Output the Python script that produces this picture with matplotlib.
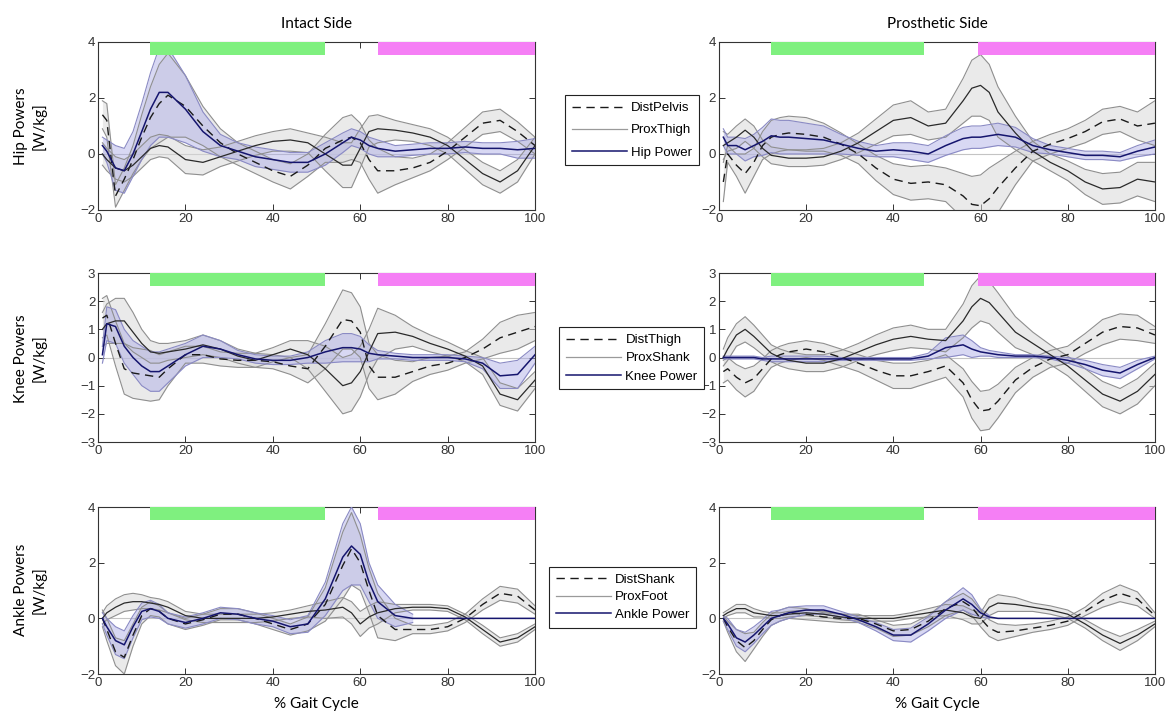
import numpy as np
import matplotlib.pyplot as plt
from matplotlib.lines import Line2D

nan = np.nan

# % gait cycle sample points
gait = [1, 2, 4, 6, 8, 10, 12, 14, 16, 20, 24, 28, 32, 36, 40, 44, 48, 52, 56, 58, 60,
        62, 64, 68, 72, 76, 80, 84, 88, 92, 96, 100]

# ---- hip, intact side ----
hip_int_dist = [1.4, 1.2, -1.5, -0.9, -0.2, 0.6, 1.3, 1.8, 2.1, 1.7, 1.0, 0.4, 0.0, -0.3, -0.6, -0.8,
                -0.4, 0.2, 0.5, 0.6, 0.4, -0.2, -0.6, -0.6, -0.5, -0.3, 0.1, 0.6, 1.1, 1.2, 0.8, 0.3]
hip_int_dist_sd = [0.5, 0.6, 0.4, 0.4, 0.5, 0.8, 1.1, 1.4, 1.5, 1.1, 0.7, 0.5, 0.4, 0.4, 0.4, 0.45,
                   0.4, 0.5, 0.8, 0.8, 0.7, 0.7, 0.8, 0.5, 0.35, 0.3, 0.3, 0.35, 0.4, 0.4, 0.35, 0.3]
hip_int_prox = [0.0, -0.2, -0.5, -0.6, -0.4, -0.1, 0.2, 0.3, 0.25, -0.2, -0.3, -0.1, 0.1, 0.3, 0.45, 0.5,
                0.4, 0.0, -0.4, -0.4, 0.2, 0.8, 0.9, 0.85, 0.75, 0.6, 0.3, -0.2, -0.7, -1.0, -0.6, 0.3]
hip_int_prox_sd = [0.4, 0.4, 0.4, 0.4, 0.4, 0.4, 0.4, 0.4, 0.4, 0.5, 0.45, 0.35, 0.35, 0.35, 0.35, 0.4,
                   0.35, 0.6, 0.8, 0.8, 0.7, 0.55, 0.5, 0.35, 0.3, 0.3, 0.3, 0.35, 0.4, 0.4, 0.4, 0.3]
hip_int_pow = [0.3, 0.1, -0.5, -0.6, 0.0, 0.8, 1.6, 2.2, 2.2, 1.6, 0.8, 0.3, 0.1, -0.1, -0.2, -0.3,
               -0.3, 0.0, 0.4, 0.6, 0.5, 0.3, 0.2, 0.1, 0.15, 0.2, 0.2, 0.25, 0.2, 0.2, 0.15, 0.2]
hip_int_pow_sd = [0.3, 0.4, 0.8, 0.8, 0.8, 1.0, 1.3, 1.6, 1.6, 1.2, 0.7, 0.4, 0.3, 0.35, 0.35, 0.35,
                  0.35, 0.4, 0.35, 0.3, 0.3, 0.3, 0.3, 0.2, 0.2, 0.2, 0.2, 0.2, 0.2, 0.2, 0.3, 0.35]

# ---- hip, prosthetic side ----
hip_pro_dist = [-1.0, 0.0, -0.4, -0.7, -0.3, 0.3, 0.6, 0.7, 0.75, 0.7, 0.6, 0.35, 0.0, -0.5, -0.9, -1.05,
                -1.0, -1.1, -1.5, -1.8, -1.85, -1.6, -1.2, -0.5, 0.1, 0.35, 0.55, 0.8, 1.15, 1.25, 1.0, 1.1]
hip_pro_dist_sd = [0.7, 0.3, 0.4, 0.7, 0.5, 0.5, 0.6, 0.6, 0.6, 0.6, 0.5, 0.4, 0.35, 0.45, 0.55, 0.6,
                   0.6, 0.6, 0.8, 1.0, 1.1, 1.1, 0.9, 0.6, 0.35, 0.35, 0.35, 0.4, 0.45, 0.45, 0.5, 0.8]
hip_pro_prox = [0.3, 0.4, 0.6, 0.85, 0.6, 0.2, -0.05, -0.1, -0.15, -0.15, -0.1, 0.1, 0.4, 0.8, 1.2, 1.3,
                1.0, 1.1, 1.9, 2.35, 2.45, 2.2, 1.5, 0.75, 0.1, -0.3, -0.6, -1.0, -1.25, -1.2, -0.9, -1.0]
hip_pro_prox_sd = [0.5, 0.3, 0.4, 0.4, 0.4, 0.3, 0.3, 0.3, 0.3, 0.3, 0.3, 0.3, 0.35, 0.45, 0.55, 0.6,
                   0.5, 0.5, 0.8, 1.0, 1.1, 1.0, 0.9, 0.6, 0.35, 0.3, 0.35, 0.45, 0.55, 0.55, 0.6, 0.7]
hip_pro_pow = [0.6, 0.3, 0.3, 0.15, 0.3, 0.45, 0.65, 0.6, 0.6, 0.55, 0.5, 0.35, 0.2, 0.1, 0.15, 0.1,
               0.0, 0.3, 0.55, 0.6, 0.6, 0.65, 0.7, 0.6, 0.3, 0.15, 0.05, -0.05, -0.05, -0.1, 0.1, 0.25]
hip_pro_pow_sd = [0.3, 0.3, 0.3, 0.4, 0.4, 0.5, 0.6, 0.6, 0.6, 0.55, 0.5, 0.35, 0.25, 0.2, 0.25, 0.3,
                  0.3, 0.35, 0.4, 0.4, 0.4, 0.4, 0.4, 0.35, 0.25, 0.15, 0.15, 0.15, 0.15, 0.15, 0.2, 0.25]

# ---- knee, intact side ----
knee_int_dist = [1.4, 1.5, 0.5, -0.4, -0.55, -0.6, -0.65, -0.7, -0.4, 0.1, 0.1, -0.05, -0.1, -0.1, -0.15, -0.3,
                 -0.4, 0.4, 1.35, 1.3, 0.9, -0.3, -0.7, -0.7, -0.5, -0.3, -0.2, 0.0, 0.3, 0.7, 0.9, 1.1]
knee_int_dist_sd = [0.7, 0.7, 0.8, 0.9, 0.9, 0.9, 0.9, 0.8, 0.6, 0.3, 0.3, 0.25, 0.25, 0.25, 0.25, 0.3,
                    0.5, 0.8, 1.05, 1.0, 0.9, 0.8, 0.8, 0.6, 0.35, 0.3, 0.25, 0.2, 0.35, 0.55, 0.6, 0.5]
knee_int_prox = [1.0, 1.2, 1.3, 1.3, 0.9, 0.5, 0.2, 0.15, 0.2, 0.3, 0.45, 0.3, 0.05, -0.1, 0.1, 0.3,
                 0.1, -0.4, -1.0, -0.9, -0.5, 0.2, 0.85, 0.9, 0.75, 0.5, 0.3, 0.05, -0.3, -1.3, -1.5, -0.8]
knee_int_prox_sd = [0.6, 0.7, 0.8, 0.8, 0.7, 0.5, 0.4, 0.35, 0.3, 0.3, 0.35, 0.3, 0.25, 0.25, 0.25, 0.3,
                    0.5, 0.8, 1.0, 1.0, 0.9, 0.8, 0.9, 0.6, 0.35, 0.3, 0.25, 0.2, 0.3, 0.4, 0.4, 0.3]
knee_int_pow = [0.1, 1.2, 1.1, 0.4, 0.0, -0.3, -0.5, -0.5, -0.3, 0.1, 0.4, 0.3, 0.1, -0.05, -0.1, -0.1,
                0.0, 0.2, 0.35, 0.35, 0.3, 0.15, 0.1, 0.05, 0.0, 0.0, 0.0, -0.05, -0.2, -0.65, -0.6, 0.1]
knee_int_pow_sd = [0.3, 0.6, 0.6, 0.6, 0.6, 0.7, 0.7, 0.7, 0.6, 0.4, 0.4, 0.3, 0.15, 0.15, 0.15, 0.15,
                   0.2, 0.4, 0.5, 0.5, 0.45, 0.3, 0.15, 0.1, 0.1, 0.1, 0.1, 0.1, 0.2, 0.45, 0.5, 0.3]

# ---- knee, prosthetic side ----
knee_pro_dist = [-0.5, -0.4, -0.7, -0.9, -0.75, -0.4, -0.05, 0.1, 0.2, 0.3, 0.2, 0.0, -0.2, -0.45, -0.65, -0.65,
                 -0.5, -0.3, -0.9, -1.5, -1.9, -1.85, -1.55, -0.8, -0.35, -0.05, 0.1, 0.5, 0.9, 1.1, 1.05, 0.8]
knee_pro_dist_sd = [0.4, 0.4, 0.45, 0.5, 0.45, 0.35, 0.3, 0.3, 0.3, 0.3, 0.3, 0.3, 0.3, 0.35, 0.45, 0.45,
                    0.4, 0.4, 0.5, 0.65, 0.7, 0.7, 0.6, 0.45, 0.35, 0.3, 0.3, 0.35, 0.45, 0.45, 0.45, 0.3]
knee_pro_prox = [0.0, 0.3, 0.8, 1.0, 0.75, 0.45, 0.15, 0.0, -0.1, -0.2, -0.2, -0.05, 0.2, 0.45, 0.65, 0.75,
                 0.65, 0.6, 1.3, 1.8, 2.1, 1.95, 1.6, 0.9, 0.5, 0.1, -0.3, -0.8, -1.3, -1.55, -1.2, -0.6]
knee_pro_prox_sd = [0.3, 0.4, 0.4, 0.45, 0.4, 0.35, 0.3, 0.3, 0.3, 0.3, 0.3, 0.3, 0.3, 0.35, 0.4, 0.4,
                    0.35, 0.4, 0.6, 0.75, 0.8, 0.75, 0.7, 0.55, 0.4, 0.35, 0.35, 0.4, 0.45, 0.45, 0.45, 0.4]
knee_pro_pow = [0.0, 0.0, 0.0, 0.0, 0.0, -0.05, -0.05, -0.05, -0.05, -0.05, -0.05, -0.05, -0.05, -0.05, -0.05, -0.05,
                0.05, 0.35, 0.45, 0.3, 0.2, 0.15, 0.1, 0.05, 0.05, 0.0, -0.1, -0.25, -0.45, -0.55, -0.25, 0.0]
knee_pro_pow_sd = [0.05, 0.05, 0.05, 0.05, 0.05, 0.05, 0.1, 0.1, 0.1, 0.1, 0.1, 0.05, 0.05, 0.05, 0.05, 0.05,
                   0.1, 0.35, 0.35, 0.3, 0.15, 0.1, 0.1, 0.05, 0.05, 0.05, 0.1, 0.15, 0.2, 0.2, 0.15, 0.05]

# ---- ankle, intact side ----
ank_int_dist = [0.0, -0.4, -1.2, -1.4, -0.6, 0.1, 0.35, 0.25, 0.0, -0.2, -0.05, 0.15, 0.15, 0.0, -0.2, -0.4,
                -0.2, 0.5, 1.9, 2.5, 2.0, 1.0, 0.1, -0.4, -0.4, -0.4, -0.3, 0.0, 0.5, 0.9, 0.8, 0.3]
ank_int_dist_sd = [0.3, 0.4, 0.5, 0.6, 0.4, 0.3, 0.25, 0.2, 0.2, 0.2, 0.2, 0.2, 0.2, 0.2, 0.2, 0.2,
                   0.25, 0.6, 1.2, 1.3, 1.0, 0.8, 0.8, 0.4, 0.15, 0.15, 0.15, 0.15, 0.2, 0.25, 0.25, 0.15]
ank_int_prox = [0.0, 0.2, 0.4, 0.55, 0.6, 0.6, 0.55, 0.5, 0.4, 0.1, 0.0, 0.0, 0.0, 0.0, 0.05, 0.15,
                0.25, 0.3, 0.4, 0.2, -0.2, 0.05, 0.2, 0.35, 0.4, 0.4, 0.35, 0.05, -0.4, -0.85, -0.7, -0.3]
ank_int_prox_sd = [0.2, 0.25, 0.3, 0.3, 0.3, 0.25, 0.2, 0.2, 0.2, 0.15, 0.15, 0.15, 0.15, 0.15, 0.15, 0.15,
                   0.2, 0.3, 0.35, 0.4, 0.45, 0.4, 0.4, 0.15, 0.1, 0.1, 0.1, 0.1, 0.15, 0.15, 0.15, 0.1]
ank_int_pow = [0.0, -0.3, -0.8, -0.95, -0.3, 0.25, 0.35, 0.25, 0.0, -0.15, 0.0, 0.2, 0.15, 0.0, -0.1, -0.3,
               -0.2, 0.7, 2.2, 2.6, 2.3, 1.3, 0.6, 0.1, 0.0, 0.0, 0.0, 0.0, 0.0, 0.0, 0.0, 0.0]
ank_int_pow_sd = [0.2, 0.3, 0.5, 0.5, 0.4, 0.3, 0.3, 0.25, 0.2, 0.2, 0.2, 0.2, 0.2, 0.2, 0.2, 0.25,
                  0.3, 0.6, 1.2, 1.4, 1.1, 0.7, 0.6, 0.4, 0.15, nan, nan, nan, nan, nan, nan, nan]

# ---- ankle, prosthetic side ----
ank_pro_dist = [0.0, -0.3, -0.8, -1.05, -0.8, -0.4, -0.05, 0.1, 0.2, 0.15, 0.05, 0.0, 0.0, -0.2, -0.45, -0.4,
                -0.1, 0.35, 0.6, 0.4, 0.0, -0.35, -0.5, -0.45, -0.35, -0.25, -0.1, 0.25, 0.65, 0.9, 0.7, 0.1]
ank_pro_dist_sd = [0.1, 0.2, 0.4, 0.5, 0.3, 0.25, 0.2, 0.2, 0.2, 0.2, 0.15, 0.15, 0.15, 0.15, 0.2, 0.2,
                   0.2, 0.25, 0.3, 0.3, 0.3, 0.3, 0.3, 0.2, 0.15, 0.15, 0.15, 0.15, 0.25, 0.3, 0.25, 0.1]
ank_pro_prox = [0.1, 0.2, 0.35, 0.35, 0.2, 0.15, 0.1, 0.1, 0.15, 0.2, 0.15, 0.05, 0.0, 0.0, 0.0, 0.1,
                0.2, 0.3, 0.2, 0.05, 0.0, 0.4, 0.55, 0.5, 0.4, 0.3, 0.15, -0.2, -0.6, -0.9, -0.6, -0.2]
ank_pro_prox_sd = [0.1, 0.1, 0.15, 0.15, 0.15, 0.1, 0.1, 0.1, 0.1, 0.1, 0.1, 0.1, 0.1, 0.1, 0.1, 0.1,
                   0.15, 0.2, 0.25, 0.25, 0.2, 0.3, 0.3, 0.25, 0.15, 0.15, 0.15, 0.15, 0.2, 0.25, 0.2, 0.1]
ank_pro_pow = [0.0, -0.2, -0.7, -0.85, -0.6, -0.3, 0.0, 0.1, 0.2, 0.3, 0.3, 0.15, -0.05, -0.3, -0.6, -0.6,
               -0.2, 0.3, 0.7, 0.5, 0.2, 0.05, 0.0, 0.0, 0.0, 0.0, 0.0, 0.0, 0.0, 0.0, 0.0, 0.0]
ank_pro_pow_sd = [0.1, 0.2, 0.3, 0.35, 0.3, 0.25, 0.25, 0.2, 0.2, 0.15, 0.15, 0.1, 0.1, 0.15, 0.2, 0.25,
                  0.25, 0.3, 0.4, 0.35, 0.15, 0.05, nan, nan, nan, nan, nan, nan, nan, nan, nan, nan]

# stance phase bars (% gait cycle)
intact_green = (12, 52)
intact_magenta = (64, 100)
prosthetic_green = (12, 47)
prosthetic_magenta = (59.5, 100)

row_names = ["Hip Powers\n[W/kg]", "Knee Powers\n[W/kg]", "Ankle Powers\n[W/kg]"]
col_names = ["Intact Side", "Prosthetic Side"]
legend_names = [["DistPelvis", "ProxThigh", "Hip Power"],
                ["DistThigh", "ProxShank", "Knee Power"],
                ["DistShank", "ProxFoot", "Ankle Power"]]
ylims = [(-2, 4), (-3, 3), (-2, 4)]
yticks = [[-2, 0, 2, 4], [-3, -2, -1, 0, 1, 2, 3], [-2, 0, 2, 4]]

panels = [
    [(hip_int_dist, hip_int_dist_sd, hip_int_prox, hip_int_prox_sd, hip_int_pow, hip_int_pow_sd),
     (hip_pro_dist, hip_pro_dist_sd, hip_pro_prox, hip_pro_prox_sd, hip_pro_pow, hip_pro_pow_sd)],
    [(knee_int_dist, knee_int_dist_sd, knee_int_prox, knee_int_prox_sd, knee_int_pow, knee_int_pow_sd),
     (knee_pro_dist, knee_pro_dist_sd, knee_pro_prox, knee_pro_prox_sd, knee_pro_pow, knee_pro_pow_sd)],
    [(ank_int_dist, ank_int_dist_sd, ank_int_prox, ank_int_prox_sd, ank_int_pow, ank_int_pow_sd),
     (ank_pro_dist, ank_pro_dist_sd, ank_pro_prox, ank_pro_prox_sd, ank_pro_pow, ank_pro_pow_sd)],
]

GRAY_FILL = "#d9d9d9"
GRAY_EDGE = "#8f8f8f"
BLUE_FILL = "#a9a9e6"
BLUE_EDGE = "#8a8ac4"
NAVY = "#15156e"
TICK_FONT = "Liberation Sans"
LABEL_FONT = "Lato"

fig = plt.figure(figsize=(11.7, 7.24), dpi=100)

lefts = [0.0838, 0.6145]
widths = [0.3735, 0.3726]
bottoms = [0.710, 0.3895, 0.069]
heights = [0.232, 0.2334, 0.2307]
legend_pos = [(0.540, 0.820), (0.540, 0.505), (0.532, 0.175)]
legend_spacing = [0.75, 0.45, 0.4]
row_label_y = [0.826, 0.505, 0.185]

x = np.array(gait, dtype=float)


def band(ax, mean, sd, fill, edge, alpha):
    m = np.array(mean, dtype=float)
    s = np.array(sd, dtype=float)
    ok = ~np.isnan(s)
    ax.fill_between(x[ok], (m - s)[ok], (m + s)[ok], color=fill, alpha=alpha, lw=0, zorder=2)
    ax.plot(x[ok], (m - s)[ok], color=edge, lw=0.8, zorder=3)
    ax.plot(x[ok], (m + s)[ok], color=edge, lw=0.8, zorder=3)


for r in range(3):
    for c in range(2):
        ax = fig.add_axes([lefts[c], bottoms[r], widths[c], heights[r]])
        dist, dist_sd, prox, prox_sd, pw, pw_sd = panels[r][c]

        ax.axhline(0, color="#c4c4c4", lw=0.8, zorder=1)
        band(ax, dist, dist_sd, GRAY_FILL, GRAY_EDGE, 0.55)
        band(ax, prox, prox_sd, GRAY_FILL, GRAY_EDGE, 0.55)
        band(ax, pw, pw_sd, BLUE_FILL, BLUE_EDGE, 0.45)

        ax.plot(x, dist, color="#1a1a1a", lw=1.0, ls=(0, (6, 4)), zorder=4)
        ax.plot(x, prox, color="#2a2a2a", lw=0.9, zorder=4)
        ax.plot(x, pw, color=NAVY, lw=1.1, zorder=5)

        green = intact_green if c == 0 else prosthetic_green
        magenta = intact_magenta if c == 0 else prosthetic_magenta
        ax.axvspan(green[0], green[1], ymin=0.923, ymax=1.0, color="#7ff07f", lw=0, zorder=6)
        ax.axvspan(magenta[0], magenta[1], ymin=0.923, ymax=1.0, color="#f57ff5", lw=0, zorder=6)

        ax.set_xlim(0, 100)
        ax.set_ylim(*ylims[r])
        ax.set_xticks([0, 20, 40, 60, 80, 100])
        ax.set_yticks(yticks[r])
        ax.tick_params(direction="in", top=True, right=True, length=4, width=0.7,
                       labelsize=9.5, colors="#333333", pad=2)
        for lab in ax.get_xticklabels() + ax.get_yticklabels():
            lab.set_fontfamily(TICK_FONT)
        for sp in ax.spines.values():
            sp.set_color("#333333")
            sp.set_linewidth(0.8)

        if r == 0:
            ax.set_title(col_names[c], fontsize=11, family=LABEL_FONT, pad=10)
        if r == 2:
            ax.set_xlabel("% Gait Cycle", fontsize=11, family=LABEL_FONT, labelpad=6)

    fig.text(0.026, row_label_y[r], row_names[r], rotation=90, ha="center", va="center",
             fontsize=11, family=LABEL_FONT, linespacing=1.3)

    handles = [Line2D([], [], color="#1a1a1a", lw=1.0, ls=(0, (6, 4))),
               Line2D([], [], color="#9a9a9a", lw=0.9),
               Line2D([], [], color=NAVY, lw=1.1)]
    leg = fig.legend(handles, legend_names[r], loc="center", bbox_to_anchor=legend_pos[r],
                     fancybox=False, framealpha=1, edgecolor="#222222", handlelength=4.2,
                     handletextpad=0.3, borderpad=0.5, labelspacing=legend_spacing[r],
                     prop={"family": TICK_FONT, "size": 9.5})
    leg.get_frame().set_linewidth(0.8)

fig.savefig("out.png", dpi=100)
